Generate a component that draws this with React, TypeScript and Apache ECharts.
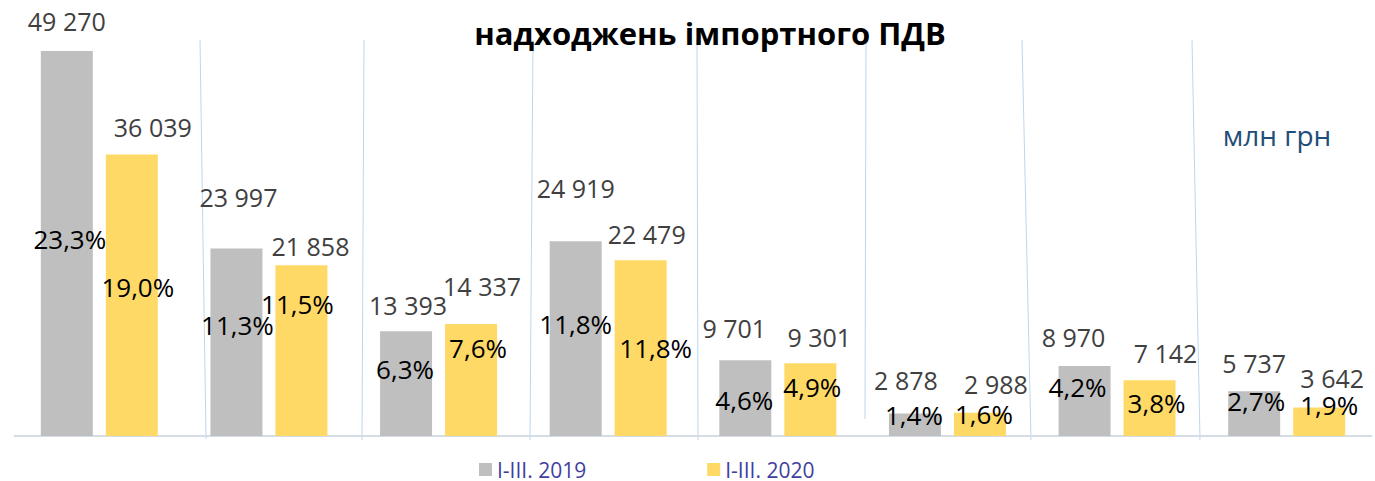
import React, { useEffect, useRef } from "react";
import * as echarts from "echarts";

// ---- data ----
const categories = ["1", "2", "3", "4", "5", "6", "7", "8"];
const seriesNames = ["I-III. 2019", "I-III. 2020"];
const values2019 = [49270, 23997, 13393, 24919, 9701, 2878, 8970, 5737];
const values2020 = [36039, 21858, 14337, 22479, 9301, 2988, 7142, 3642];
const share2019 = [23.3, 11.3, 6.3, 11.8, 4.6, 1.4, 4.2, 2.7];
const share2020 = [19.0, 11.5, 7.6, 11.8, 4.9, 1.6, 3.8, 1.9];
const titleText = "надходжень імпортного ПДВ";
const unitText = "млн грн";

// ---- label placement (styling) ----
const valueOffset2019 = [[0, -2], [2, -23], [2, 2], [0, -25], [-11, -4], [-9, -5], [-11, 0], [0, 0]];
const valueOffset2020 = [[21, 1], [9, 9], [11, -9], [6, 2], [9, 2], [16, 0], [16, 1], [13, -1]];
const pctOffset2019 = [[3, -5], [1, -17], [-1, -15], [0, -15], [-1, 2], [-1, -10], [-7, -14], [2, -13]];
const pctOffset2020 = [[6, -8], [-4, -47], [7, -32], [15, 0], [2, -13], [4, -10], [7, -5], [10, -17]];

// decorative separators (x1,y1,x2,y2)
const separators = [
  [200, 40, 206, 439],
  [364, 40, 362, 440],
  [533, 40, 530, 440],
  [697, 40, 698, 440],
  [866, 40, 865, 419],
  [1022, 40, 1031, 440],
  [1192, 40, 1200, 440],
];

const FONT = "'Open Sans', 'Noto Sans', sans-serif";
const GREY = "#BFBFBF";
const YELLOW = "#FFD966";

const fmtValue = (v: number) =>
  v >= 1000 ? `${Math.floor(v / 1000)} ${String(v % 1000).padStart(3, "0")}` : String(v);
const fmtPct = (p: number) => p.toFixed(1).replace(".", ",") + "%";

export default function App() {
  const ref = useRef<HTMLDivElement>(null);
  useEffect(() => {
    document.body.style.margin = "0";
    if (!ref.current) return;
    const chart = echarts.init(ref.current, null, { renderer: "svg" });

    const mainSeries = (name: string, stack: string, color: string, values: number[], shares: number[], offs: number[][]) => ({
      name,
      type: "bar",
      stack,
      barWidth: 52,
      barGap: "25%",
      itemStyle: { color },
      data: values.map((v, i) => ({
        value: v,
        label: {
          show: true,
          position: "inside",
          offset: offs[i],
          formatter: fmtPct(shares[i]),
        },
      })),
      label: { fontFamily: FONT, fontSize: 26, color: "#000000" },
    });

    const topSeries = (name: string, stack: string, values: number[], offs: number[][]) => ({
      name,
      type: "bar",
      stack,
      barWidth: 52,
      barGap: "25%",
      itemStyle: { color: "rgba(0,0,0,0)" },
      data: values.map((v, i) => ({
        value: 0,
        label: {
          show: true,
          position: "top",
          distance: 16,
          offset: offs[i],
          formatter: fmtValue(v),
        },
      })),
      label: { fontFamily: FONT, fontSize: 25, color: "#404040" },
    });

    const option = {
      animation: false,
      grid: { left: 14.5, right: 3.5, top: 45.3, bottom: 45, containLabel: false },
      legend: {
        data: seriesNames,
        left: 479,
        top: 459,
        padding: 0,
        itemWidth: 13,
        itemHeight: 13,
        itemGap: 121,
        icon: "rect",
        textStyle: { fontFamily: FONT, fontSize: 21, color: "#3F3F9F" },
      },
      xAxis: {
        type: "category",
        data: categories,
        axisLine: { show: true, lineStyle: { color: "#D6DCE5", width: 2 } },
        axisTick: { show: false },
        axisLabel: { show: false },
        splitLine: { show: false },
      },
      yAxis: {
        type: "value",
        min: 0,
        max: 50000,
        show: false,
        splitLine: { show: false },
      },
      series: [
        mainSeries(seriesNames[0], "a", GREY, values2019, share2019, pctOffset2019),
        topSeries("top2019", "a", values2019, valueOffset2019),
        mainSeries(seriesNames[1], "b", YELLOW, values2020, share2020, pctOffset2020),
        topSeries("top2020", "b", values2020, valueOffset2020),
      ],
      graphic: [
        ...separators.map(([x1, y1, x2, y2]) => ({
          type: "line",
          silent: true,
          z: -1,
          shape: { x1, y1, x2, y2 },
          style: { stroke: "#BDD7EE", lineWidth: 1 },
        })),
        {
          type: "text",
          x: 710,
          y: 33,
          style: {
            text: titleText,
            fontFamily: FONT,
            fontWeight: "bold",
            fontSize: 31,
            fill: "#000000",
            textAlign: "center",
            textVerticalAlign: "middle",
          },
        },
        {
          type: "text",
          x: 1277,
          y: 135,
          style: {
            text: unitText,
            fontFamily: FONT,
            fontSize: 28,
            fill: "#1F4E79",
            textAlign: "center",
            textVerticalAlign: "middle",
          },
        },
      ],
    };
    chart.setOption(option as any);
    return () => chart.dispose();
  }, []);
  return <div ref={ref} style={{ width: 1375, height: 481 }} />;
}
